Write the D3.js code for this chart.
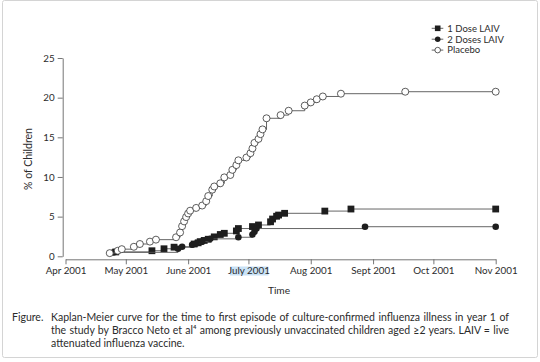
<!DOCTYPE html>
<html>
<head>
<meta charset="utf-8">
<script src="https://cdn.jsdelivr.net/npm/d3@7"></script>
<style>
  body { margin: 0; background: #fff; }
  text { font-family: Lato, "Open Sans", sans-serif; fill: #2b2b2b; }
</style>
</head>
<body>
<div id="chart"></div>
<script>
// tick labels
let monthTicks = ['2001-04-01', '2001-05-01', '2001-06-01', '2001-07-01', '2001-08-01', '2001-09-01', '2001-10-01', '2001-11-01']
let monthLabels = ['Apr 2001', 'May 2001', 'June 2001', 'July 2001', 'Aug 2001', 'Sept 2001', 'Oct 2001', 'Nov 2001']
let yTicks = [0, 5, 10, 15, 20, 25]

// Kaplan-Meier points [date, % of children]
let dose1 = [
  ['2001-04-26', 0.55], ['2001-05-14', 0.7], ['2001-05-20', 0.95], ['2001-05-25', 1.15],
  ['2001-06-04', 1.55], ['2001-06-06', 1.7], ['2001-06-07', 1.85], ['2001-06-09', 2.0],
  ['2001-06-11', 2.15], ['2001-06-14', 2.45], ['2001-06-17', 2.75], ['2001-06-19', 2.9],
  ['2001-06-25', 3.2], ['2001-06-26', 3.5], ['2001-07-03', 3.75], ['2001-07-06', 3.95],
  ['2001-07-12', 4.35], ['2001-07-13', 4.7], ['2001-07-15', 5.05], ['2001-07-16', 5.2],
  ['2001-07-19', 5.42], ['2001-08-08', 5.7], ['2001-08-21', 5.96], ['2001-11-01', 5.96]
]
let dose2 = [
  ['2001-04-25', 0.5], ['2001-05-27', 0.95], ['2001-05-29', 1.2], ['2001-06-03', 1.45],
  ['2001-06-05', 1.6], ['2001-06-08', 1.85], ['2001-06-12', 2.2], ['2001-06-26', 2.4],
  ['2001-07-03', 2.75], ['2001-07-04', 3.1], ['2001-07-05', 3.5], ['2001-08-28', 3.73],
  ['2001-11-01', 3.73]
]
let placebo = [
  ['2001-04-23', 0.4], ['2001-04-27', 0.7], ['2001-04-29', 0.9], ['2001-05-05', 1.2],
  ['2001-05-08', 1.55], ['2001-05-13', 1.85], ['2001-05-16', 2.1], ['2001-05-26', 2.4],
  ['2001-05-28', 3.0], ['2001-05-29', 3.8], ['2001-05-30', 4.4], ['2001-05-31', 4.95],
  ['2001-06-01', 5.4], ['2001-06-02', 5.75], ['2001-06-05', 6.1], ['2001-06-08', 6.4],
  ['2001-06-10', 6.95], ['2001-06-11', 7.6], ['2001-06-13', 8.4], ['2001-06-14', 8.8],
  ['2001-06-17', 9.2], ['2001-06-19', 9.95], ['2001-06-22', 10.25], ['2001-06-23', 10.9],
  ['2001-06-25', 11.5], ['2001-06-26', 12.1], ['2001-06-30', 12.45], ['2001-07-02', 13.0],
  ['2001-07-03', 13.6], ['2001-07-04', 14.3], ['2001-07-06', 14.8], ['2001-07-07', 15.4],
  ['2001-07-08', 16.0], ['2001-07-10', 17.4], ['2001-07-17', 17.8], ['2001-07-21', 18.35],
  ['2001-07-29', 19.0], ['2001-08-01', 19.4], ['2001-08-04', 19.8], ['2001-08-07', 20.15],
  ['2001-08-16', 20.5], ['2001-09-17', 20.75], ['2001-11-01', 20.75]
]
let seriesNames = ['1 Dose LAIV', '2 Doses LAIV', 'Placebo']

let caption = [
  'Kaplan-Meier curve for the time to first episode of culture-confirmed influenza illness in year 1 of',
  'the study by Bracco Neto et al\u2074 among previously unvaccinated children aged \u22652 years. LAIV = live',
  'attenuated influenza vaccine.'
]

let width = 540
let height = 362
let parse = d3.timeParse('%Y-%m-%d')

let svg = d3.select('#chart').append('svg')
  .attr('width', width)
  .attr('height', height)

// frame
svg.append('rect')
  .attr('x', 2.5).attr('y', 0.5)
  .attr('width', 535).attr('height', 357)
  .attr('rx', 2)
  .attr('fill', 'none')
  .attr('stroke', '#d4d4d4')

let xScale = d3.scaleTime([parse('2001-04-01'), parse('2001-11-01')], [65.5, 495.7])
let yScale = d3.scaleLinear([0, 25], [256.3, 58])

let g = svg.append('g')

// highlight behind "July 2001"
g.append('rect')
  .attr('x', xScale(parse('2001-07-01')) - 18.5)
  .attr('y', 266.5)
  .attr('width', 38.5)
  .attr('height', 9)
  .attr('fill', '#c9e2f6')

// axes
let xAxis = g.append('g')
  .attr('transform', `translate(0,259.3)`)
  .call(d3.axisBottom(xScale)
    .tickValues(monthTicks.map(parse))
    .tickFormat((d, i) => monthLabels[i])
    .tickSize(5).tickSizeOuter(0).tickPadding(3))
let yAxis = g.append('g')
  .attr('transform', `translate(62.7,0)`)
  .call(d3.axisLeft(yScale)
    .tickValues(yTicks)
    .tickSize(5).tickSizeOuter(0).tickPadding(3))

g.selectAll('.domain, .tick line').attr('stroke', '#666').attr('stroke-width', 0.9)
g.selectAll('.tick text')
  .attr('font-family', 'Lato, sans-serif')
  .attr('font-size', 9.8)
  .attr('fill', '#2b2b2b')

// axis titles
g.append('text')
  .attr('x', 279).attr('y', 293.5)
  .attr('text-anchor', 'middle')
  .attr('font-size', 10.2)
  .text('Time')
g.append('text')
  .attr('transform', 'translate(31.5,159) rotate(-90)')
  .attr('text-anchor', 'middle')
  .attr('font-size', 10.5)
  .text('% of Children')

// steps + markers
let line = d3.line()
  .x(d => xScale(parse(d[0])))
  .y(d => yScale(d[1]))
  .curve(d3.curveStepAfter)

function drawMarker(sel, type) {
  if (type === 'square') {
    sel.append('rect')
      .attr('x', -3.4).attr('y', -3.4)
      .attr('width', 6.8).attr('height', 6.8)
      .attr('fill', '#1e1e1e')
  } else if (type === 'dot') {
    sel.append('circle').attr('r', 3.3).attr('fill', '#1e1e1e')
  } else {
    sel.append('circle').attr('r', 3.5)
      .attr('fill', '#fff').attr('stroke', '#333').attr('stroke-width', 0.8)
  }
}

let series = [
  { data: dose1, type: 'square' },
  { data: dose2, type: 'dot' },
  { data: placebo, type: 'open' }
]

series.forEach(s => {
  g.append('path')
    .attr('d', line(s.data))
    .attr('fill', 'none')
    .attr('stroke', '#555')
    .attr('stroke-width', 0.9)
  let pts = g.selectAll(null).data(s.data).enter().append('g')
    .attr('transform', d => `translate(${xScale(parse(d[0]))},${yScale(d[1])})`)
  drawMarker(pts, s.type)
})

// legend
let legend = svg.append('g').attr('transform', 'translate(431.7,28.3)')
seriesNames.forEach((name, i) => {
  let row = legend.append('g').attr('transform', `translate(0,${i * 10.9})`)
  row.append('line')
    .attr('x1', 0).attr('x2', 11.6)
    .attr('stroke', '#555').attr('stroke-width', 0.9)
  let m = row.append('g').attr('transform', 'translate(6,0)')
  if (i === 0) {
    m.append('rect').attr('x', -2.8).attr('y', -2.8).attr('width', 5.6).attr('height', 5.6).attr('fill', '#1e1e1e')
  } else if (i === 1) {
    m.append('circle').attr('r', 2.8).attr('fill', '#1e1e1e')
  } else {
    m.append('circle').attr('r', 2.8).attr('fill', '#fff').attr('stroke', '#333').attr('stroke-width', 0.8)
  }
  row.append('text')
    .attr('x', 15.6).attr('dy', '0.35em')
    .attr('font-size', 9.5)
    .text(name)
})

// caption, first two lines justified
let capSize = 10.5
svg.append('text')
  .attr('x', 12).attr('y', 321)
  .attr('font-size', capSize)
  .attr('fill', '#1f1f1f')
  .text('Figure.')
caption.forEach((t, i) => {
  let txt = svg.append('text')
    .attr('x', 51).attr('y', 321 + i * 12.8)
    .attr('font-size', capSize)
    .attr('fill', '#1f1f1f')
    .text(t)
  if (i < 2) {
    let natural = txt.node().getComputedTextLength()
    let gaps = t.split(' ').length - 1
    txt.attr('word-spacing', (458 - natural) / gaps)
  }
})
</script>
</body>
</html>
